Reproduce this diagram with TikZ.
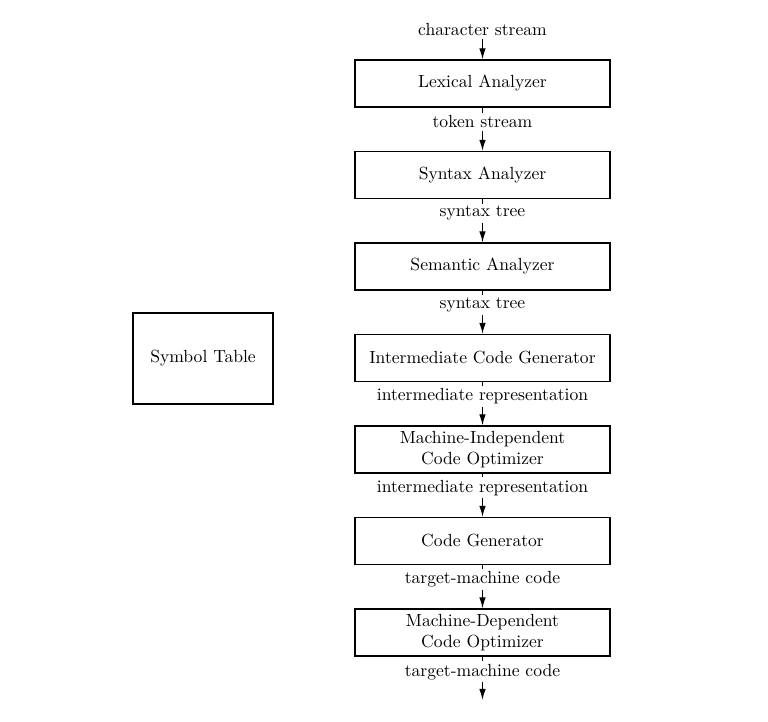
\documentclass[tikz,border=0pt]{standalone}
\usetikzlibrary{positioning}
\usetikzlibrary{arrows.meta}
\tikzset{
    phase/.style = {rectangle, draw=black, line width=0.7pt, minimum width=5.1cm, minimum height=0.94cm, align=center, inner sep=1pt},
    table/.style = {rectangle, draw=black, line width=0.7pt, minimum width=2.8cm, minimum height=1.82cm, align=center},
    stream/.style = {fill=white, inner sep=1.5pt},
    flow/.style = {line width=0.7pt, -{Latex[length=2.2mm,width=1.3mm]}},
}

\begin{document}
\begin{tikzpicture}
  \useasboundingbox (0,0) rectangle (15.36,14.44);

  \node[stream] at (9.65,13.84) (chr) {character stream};

  \node[phase] at (9.65,12.77) (lex) {Lexical Analyzer};
  \node[phase] at (9.65,10.94) (syn) {Syntax Analyzer};
  \node[phase] at (9.65, 9.11) (sem) {Semantic Analyzer};
  \node[phase] at (9.65, 7.28) (icg) {Intermediate Code Generator};
  \node[phase] at (9.65, 5.45) (mio) {Machine-Independent\\Code Optimizer};
  \node[phase] at (9.65, 3.62) (cg)  {Code Generator};
  \node[phase] at (9.65, 1.79) (mdo) {Machine-Dependent\\Code Optimizer};

  \node[table] at (4.06,7.27) (sym) {Symbol Table};

  \coordinate (out) at (9.65,0.44);

  \draw[flow] (chr) -- (lex);
  \draw[flow] (lex) -- node[stream,pos=0.33] {token stream} (syn);
  \draw[flow] (syn) -- node[stream,pos=0.33] {syntax tree} (sem);
  \draw[flow] (sem) -- node[stream,pos=0.33] {syntax tree} (icg);
  \draw[flow] (icg) -- node[stream,pos=0.33] {intermediate representation} (mio);
  \draw[flow] (mio) -- node[stream,pos=0.33] {intermediate representation} (cg);
  \draw[flow] (cg)  -- node[stream,pos=0.33] {target-machine code} (mdo);
  \draw[flow] (mdo) -- node[stream,pos=0.35] {target-machine code} (out);
\end{tikzpicture}
\end{document}
